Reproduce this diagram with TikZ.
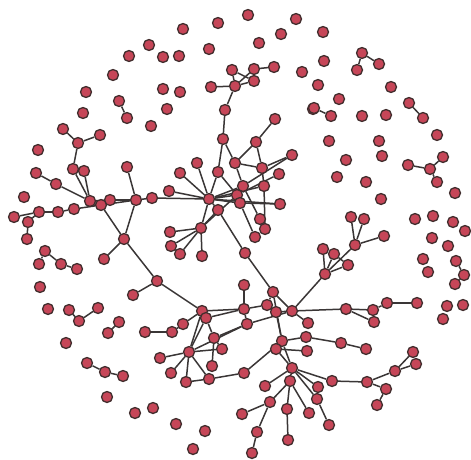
\documentclass[tikz,border=0pt]{standalone}
\usetikzlibrary{backgrounds}
\definecolor{nodefill}{RGB}{198,70,88}
\definecolor{nodeline}{RGB}{66,46,46}
\definecolor{edgecol}{RGB}{58,54,54}
\tikzset{
  vtx/.style={circle,draw=nodeline,fill=nodefill,line width=1.3pt,minimum size=11pt,inner sep=0pt},
  link/.style={draw=edgecol,line width=1.5pt}
}
\begin{document}
\begin{tikzpicture}[x=1pt,y=-1pt]
\useasboundingbox (0,0) rectangle (471,460);
\foreach \n/\x/\y in {1/149/45, 2/129/56, 3/113/75, 4/86/92, 5/119/101, 6/127/118, 7/83/113, 8/151/126, 9/63/129, 10/78/143, 11/100/135, 12/38/150,
13/183/29, 14/218/23, 15/248/15, 16/296/19, 17/281/34, 18/259/43, 19/209/49, 20/163/57, 21/179/56, 22/163/89, 23/180/92, 24/167/109, 25/232/70, 26/254/69, 27/274/67, 28/254/81, 29/235/86, 30/211/87, 31/225/110, 32/223/139, 33/275/119, 34/256/142, 35/302/72, 36/313/109,
37/323/32, 38/324/61, 39/362/53, 40/379/64, 41/357/70, 42/318/85, 43/391/87, 44/339/99, 45/314/108, 46/331/116, 47/409/103, 48/423/118, 49/362/116, 50/386/115, 51/329/141, 52/379/141, 53/437/135, 54/382/156, 55/443/157, 56/346/160,
58/337/177, 59/366/182, 60/408/165, 61/430/169, 63/437/182, 64/381/199, 65/455/193, 66/351/217, 67/364/219, 68/415/219, 69/433/216, 70/453/222, 71/465/231, 72/384/236, 73/355/245, 74/432/238, 75/448/246, 76/323/249, 77/334/254, 78/348/265, 79/423/259, 80/456/261, 81/325/274, 82/428/272, 83/464/275, 84/455/284,
85/346/309, 86/373/310, 87/387/303, 88/417/303, 89/374/322, 90/447/306, 91/463/305, 92/443/319, 93/341/343, 94/366/349, 95/413/352, 96/416/364, 97/395/371, 98/367/382, 99/386/389, 100/332/381, 101/377/405, 102/318/387, 103/317/399, 104/329/425,
105/273/292, 106/244/285, 107/267/305, 108/276/312, 109/292/311, 110/202/311, 111/206/318, 112/244/309, 113/183/324, 114/247/324, 115/308/323, 116/172/332, 117/214/338, 118/306/337, 119/282/341, 120/222/349, 121/189/352, 122/276/349, 123/307/351, 124/160/358, 125/212/366, 126/292/368, 127/290/381, 128/171/373, 129/186/382, 130/209/379, 131/244/373, 132/265/386, 133/270/402, 134/287/409, 135/242/414, 136/309/413, 137/257/432, 138/288/440, 139/252/453, 140/157/281, 141/133/295, 142/124/239, 143/104/259, 144/40/287,
145/73/169, 146/84/171, 147/127/167, 148/36/173, 149/56/184, 150/24/197, 151/90/201, 152/110/200, 153/136/200, 154/152/198, 155/101/205, 156/14/217, 157/39/212, 158/58/212, 159/74/209, 160/28/222, 161/27/239, 162/45/251, 163/39/264, 164/61/264, 165/77/269, 166/48/309, 167/69/310, 168/79/321, 169/98/308, 170/119/322, 171/108/333, 172/145/332, 173/66/343, 174/87/363, 175/105/372, 176/123/376, 177/107/397, 178/135/413, 179/153/408, 180/176/424, 181/205/431, 182/193/449,
183/197/163, 184/180/173, 185/218/172, 186/235/163, 187/262/168, 188/292/155, 189/279/174, 190/243/186, 191/264/186, 192/169/191, 193/209/199, 194/237/195, 195/240/203, 196/280/204, 197/218/210, 198/260/219, 199/265/229, 200/255/237, 201/201/228, 202/170/232, 203/171/246, 204/180/254, 205/202/256, 206/245/253}
  \node[vtx] (v\n) at (\x,\y) {};
\begin{scope}[on background layer]
\foreach \a/\b in {5/6, 9/10, 10/11, 10/145,
25/29, 25/28, 29/28, 26/28, 26/27, 30/29, 29/26, 29/31, 31/32,
33/34, 34/186, 34/187, 32/185, 32/186, 188/187, 188/190, 183/193, 184/193, 185/193, 185/194, 186/190, 186/187, 192/193, 154/193, 187/191, 191/199, 189/194, 193/194, 193/195, 193/190, 193/191, 193/197, 193/201, 193/196, 195/196, 190/198, 195/200, 197/201, 197/206, 201/202, 201/203, 201/204, 201/205, 201/194, 206/105,
145/151, 146/151, 148/149, 149/151, 151/152, 152/153, 153/154, 147/153, 156/157, 157/158, 158/159, 159/155, 155/151, 155/153, 157/160, 160/161, 155/142, 153/142, 142/143, 142/140, 140/141, 140/110,
162/164, 164/165, 162/163, 167/168, 168/169, 170/171, 172/116, 174/175, 175/176,
110/112, 111/112, 110/113, 113/116, 110/121, 111/121, 111/117, 117/120, 117/125, 121/124, 121/128, 121/129, 121/130, 121/120, 121/114, 117/114, 129/130, 130/131, 131/119, 112/106, 112/107, 112/114, 114/109, 107/105, 105/109, 107/108, 108/109, 109/85, 85/86, 86/87, 87/88, 86/89, 85/89, 109/81, 109/115, 108/119, 105/119, 119/122, 119/118, 119/126, 122/123, 118/93, 93/94, 126/127, 126/100, 126/102, 126/103, 127/133, 127/134, 127/136, 133/135, 133/137, 137/139, 134/138, 100/98, 98/97, 98/99, 97/95, 97/96, 99/101, 102/103, 103/104, 122/126, 126/132,
81/76, 81/77, 81/78, 81/73, 77/78, 73/66, 73/67, 73/72,
55/61, 60/61, 61/63, 39/40, 39/41, 45/46, 47/48, 80/83, 83/84}
  \draw[link] (v\a) -- (v\b);
\end{scope}
\end{tikzpicture}
\end{document}
